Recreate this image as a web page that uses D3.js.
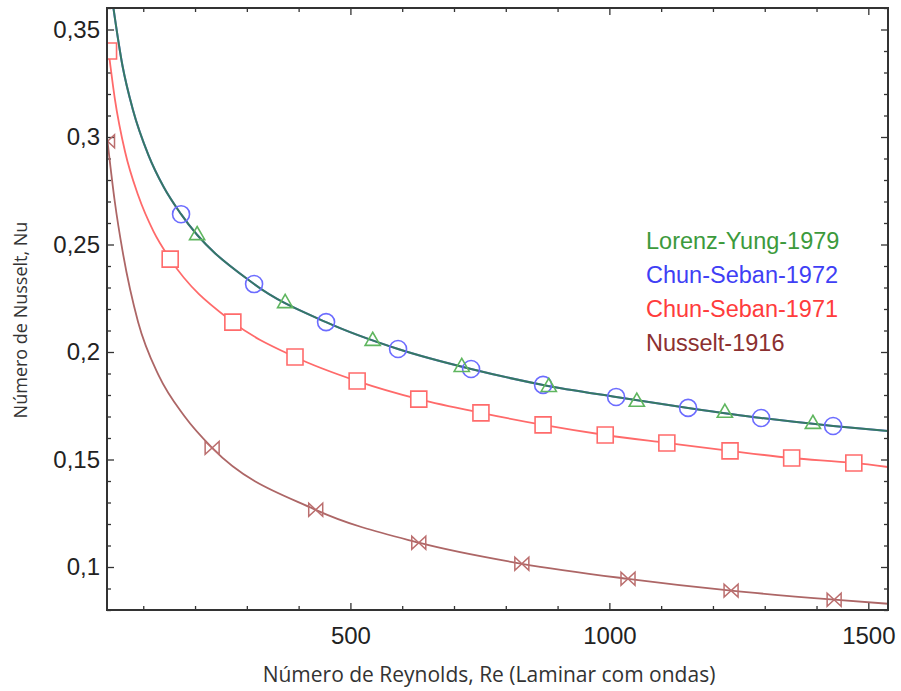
<!DOCTYPE html>
<html>
<head>
<meta charset="utf-8">
<script src="https://cdn.jsdelivr.net/npm/d3@7"></script>
<style>
    body { margin: 0; background: #fff; }
    svg { display: block; }
</style>
</head>
<body>
<svg class="nusselt-chart" width="901" height="691"></svg>
<script>

//////////// DATA ////////////

var seriesNames = ["Lorenz-Yung-1979", "Chun-Seban-1972", "Chun-Seban-1971", "Nusselt-1916"];

// Lorenz-Yung-1979 markers (triangles)
var lorenzRe = [204, 374, 543, 715, 883, 1053, 1223, 1393];
var lorenzNu = [0.2543, 0.2227, 0.2051, 0.1930, 0.1837, 0.1768, 0.1717, 0.1665];

// Chun-Seban-1972 markers (circles)
var chun72Re = [173, 314, 453, 592, 733, 872, 1013, 1152, 1293, 1432];
var chun72Nu = [0.2641, 0.2316, 0.2139, 0.2014, 0.1921, 0.1847, 0.1791, 0.1740, 0.1693, 0.1656];

// Chun-Seban-1971 markers (squares)
var chun71Re = [33, 152, 273, 393, 513, 632, 752, 872, 992, 1111, 1233, 1352, 1472];
var chun71Nu = [0.340, 0.2432, 0.2139, 0.1977, 0.1865, 0.1781, 0.1717, 0.1661, 0.1614, 0.1577, 0.1540, 0.1507, 0.1484];

// Nusselt-1916 markers (bowties)
var nusseltRe = [31, 233, 433, 632, 831, 1036, 1235, 1434];
var nusseltNu = [0.298, 0.1554, 0.1266, 0.1113, 0.1015, 0.0945, 0.0890, 0.0848];

// extra points (the two upper series share one curve)
var upperCurveRe = [40, 60, 80, 110, 140, 173, 314, 453, 592, 733, 872, 1013, 1152, 1293, 1432, 1538];
var upperCurveNu = [0.364, 0.333, 0.3127, 0.2916, 0.2765, 0.2641, 0.2316, 0.2139, 0.2014, 0.1921, 0.1847, 0.1791, 0.1740, 0.1693, 0.1656, 0.1632];
var chun71CurveRe = [33, 45, 65, 90, 120, 152, 273, 393, 513, 632, 752, 872, 992, 1111, 1233, 1352, 1472, 1538];
var chun71CurveNu = [0.340, 0.318, 0.293, 0.273, 0.256, 0.2432, 0.2139, 0.1977, 0.1865, 0.1781, 0.1717, 0.1661, 0.1614, 0.1577, 0.1540, 0.1507, 0.1484, 0.1465];
var nusseltCurveRe = [31, 45, 60, 90, 130, 180, 233, 433, 632, 831, 1036, 1235, 1434, 1538];
var nusseltCurveNu = [0.298, 0.270, 0.247, 0.214, 0.189, 0.170, 0.1554, 0.1266, 0.1113, 0.1015, 0.0945, 0.0890, 0.0848, 0.0829];

// ticks
var xMajorTicks = [500, 1000, 1500];
var xTickLabels = ["500", "1000", "1500"];
var yMajorTicks = [0.1, 0.15, 0.2, 0.25, 0.3, 0.35];
var yTickLabels = ["0,1", "0,15", "0,2", "0,25", "0,3", "0,35"];

var colours = {
    lorenzLine: '#2e8b2e',
    lorenzMark: '#5fb65f',
    lorenzText: '#3c9a3c',
    chun72Line: '#4a4af0',
    chun72Mark: '#6c6cff',
    chun72Text: '#3f3ff5',
    chun71Line: '#ff6a6a',
    chun71Mark: '#ff6b6b',
    chun71Text: '#ff3c3c',
    nusseltLine: '#ad6666',
    nusseltMark: '#bb6e6e',
    nusseltText: '#8c3030'
};


//////////// SCALES ////////////

var svg = d3.select("svg.nusselt-chart");
var margin = { left: 107, right: 888, top: 8, bottom: 610 };

var x = d3.scaleLinear().domain([30, 1538]).range([margin.left, margin.right]);
var y = d3.scaleLinear().domain([0.08, 0.36]).range([margin.bottom, margin.top]);

var xMinorTicks = d3.range(1, 16).map((d) => d * 100).filter((d) => xMajorTicks.indexOf(d) == -1);
var yMinorTicks = d3.range(8, 37).map((d) => d / 100).filter((d) => yMajorTicks.every((m) => Math.abs(m - d) > 1e-9));

function zip(a, b) {
    return a.map((d, i) => [d, b[i]]);
}

svg.append("clipPath").attr("id", "plot-clip")
    .append("rect")
    .attr("x", margin.left).attr("y", margin.top)
    .attr("width", margin.right - margin.left)
    .attr("height", margin.bottom - margin.top);


//////////// AXES ////////////

function styleAxis(g) {
    g.select(".domain").remove();
    g.selectAll(".tick line").attr("stroke", "#333").attr("stroke-width", 1.3);
    g.selectAll(".tick text")
        .attr("fill", "#222")
        .style("font-family", "'Liberation Sans', Arial, sans-serif")
        .style("font-size", "24px");
}

// left / bottom with labels
svg.append("g")
    .attr("transform", `translate(${margin.left},0)`)
    .call(d3.axisLeft(y).tickValues(yMajorTicks).tickSizeInner(-7).tickSizeOuter(0).tickPadding(7)
        .tickFormat((d, i) => yTickLabels[i]))
    .call(styleAxis);
svg.append("g")
    .attr("transform", `translate(${margin.left},0)`)
    .call(d3.axisLeft(y).tickValues(yMinorTicks).tickSizeInner(-4).tickSizeOuter(0).tickFormat(""))
    .call(styleAxis);

svg.append("g")
    .attr("transform", `translate(0,${margin.bottom})`)
    .call(d3.axisBottom(x).tickValues(xMajorTicks).tickSizeInner(-7).tickSizeOuter(0).tickPadding(17)
        .tickFormat((d, i) => xTickLabels[i]))
    .call(styleAxis);
svg.append("g")
    .attr("transform", `translate(0,${margin.bottom})`)
    .call(d3.axisBottom(x).tickValues(xMinorTicks).tickSizeInner(-4).tickSizeOuter(0).tickFormat(""))
    .call(styleAxis);

// right / top, ticks only
svg.append("g")
    .attr("transform", `translate(${margin.right},0)`)
    .call(d3.axisRight(y).tickValues(yMajorTicks).tickSizeInner(-7).tickSizeOuter(0).tickFormat(""))
    .call(styleAxis);
svg.append("g")
    .attr("transform", `translate(${margin.right},0)`)
    .call(d3.axisRight(y).tickValues(yMinorTicks).tickSizeInner(-4).tickSizeOuter(0).tickFormat(""))
    .call(styleAxis);
svg.append("g")
    .attr("transform", `translate(0,${margin.top})`)
    .call(d3.axisTop(x).tickValues(xMajorTicks).tickSizeInner(-7).tickSizeOuter(0).tickFormat(""))
    .call(styleAxis);
svg.append("g")
    .attr("transform", `translate(0,${margin.top})`)
    .call(d3.axisTop(x).tickValues(xMinorTicks).tickSizeInner(-4).tickSizeOuter(0).tickFormat(""))
    .call(styleAxis);


//////////// CURVES ////////////

var line = d3.line()
    .x((d) => x(d[0]))
    .y((d) => y(d[1]))
    .curve(d3.curveMonotoneX);

var curves = svg.append("g").attr("class", "curves").attr("clip-path", "url(#plot-clip)");

curves.append("path")
    .datum(zip(nusseltCurveRe, nusseltCurveNu))
    .attr("d", line).attr("fill", "none")
    .attr("stroke", colours.nusseltLine).attr("stroke-width", 1.8);

curves.append("path")
    .datum(zip(chun71CurveRe, chun71CurveNu))
    .attr("d", line).attr("fill", "none")
    .attr("stroke", colours.chun71Line).attr("stroke-width", 1.8);

// blue and green lie on top of each other
curves.append("path")
    .datum(zip(upperCurveRe, upperCurveNu))
    .attr("d", line).attr("fill", "none")
    .attr("stroke", colours.chun72Line).attr("stroke-width", 2);
curves.append("path")
    .datum(zip(upperCurveRe, upperCurveNu))
    .attr("d", line).attr("fill", "none")
    .attr("stroke", colours.lorenzLine).attr("stroke-width", 2)
    .attr("stroke-opacity", 0.72);


//////////// MARKERS ////////////

var bowtie = "M-7,-6.5L-7,6.5L7,-6.5L7,6.5Z";
var markers = svg.append("g").attr("class", "markers").attr("clip-path", "url(#plot-clip)");

markers.selectAll("path.nusselt")
    .data(zip(nusseltRe, nusseltNu))
    .enter().append("path")
    .attr("class", "nusselt")
    .attr("transform", (d) => `translate(${x(d[0])},${y(d[1])})`)
    .attr("d", bowtie)
    .attr("fill", "none").attr("stroke", colours.nusseltMark).attr("stroke-width", 1.5);

markers.selectAll("path.chun71")
    .data(zip(chun71Re, chun71Nu))
    .enter().append("path")
    .attr("class", "chun71")
    .attr("transform", (d) => `translate(${x(d[0])},${y(d[1])})`)
    .attr("d", d3.symbol(d3.symbolSquare, 256))
    .attr("fill", "#fff").attr("stroke", colours.chun71Mark).attr("stroke-width", 1.6);

markers.selectAll("path.chun72")
    .data(zip(chun72Re, chun72Nu))
    .enter().append("path")
    .attr("class", "chun72")
    .attr("transform", (d) => `translate(${x(d[0])},${y(d[1])})`)
    .attr("d", d3.symbol(d3.symbolCircle, 227))
    .attr("fill", "none").attr("stroke", colours.chun72Mark).attr("stroke-width", 1.6);

markers.selectAll("path.lorenz")
    .data(zip(lorenzRe, lorenzNu))
    .enter().append("path")
    .attr("class", "lorenz")
    .attr("transform", (d) => `translate(${x(d[0])},${y(d[1])})`)
    .attr("d", d3.symbol(d3.symbolTriangle, 100))
    .attr("fill", "none").attr("stroke", colours.lorenzMark).attr("stroke-width", 1.6);


//////////// FRAME, LEGEND, TITLES ////////////

svg.append("rect")
    .attr("x", margin.left).attr("y", margin.top)
    .attr("width", margin.right - margin.left)
    .attr("height", margin.bottom - margin.top)
    .attr("fill", "none").attr("stroke", "#333").attr("stroke-width", 2);

var legendColours = [colours.lorenzText, colours.chun72Text, colours.chun71Text, colours.nusseltText];
svg.append("g")
    .attr("class", "legend")
    .selectAll("text")
    .data(seriesNames)
    .enter().append("text")
    .attr("x", 646)
    .attr("y", (d, i) => 249 + i * 34)
    .attr("fill", (d, i) => legendColours[i])
    .style("font-family", "'Liberation Sans', Arial, sans-serif")
    .style("font-size", "23.5px")
    .text((d) => d);

svg.append("text")
    .attr("x", 489).attr("y", 682)
    .attr("text-anchor", "middle")
    .attr("fill", "#333")
    .style("font-family", "'Open Sans', sans-serif")
    .style("font-size", "21px")
    .text("Número de Reynolds, Re (Laminar com ondas)");

svg.append("text")
    .attr("transform", "translate(27,320) rotate(-90)")
    .attr("text-anchor", "middle")
    .attr("fill", "#333")
    .style("font-family", "'Open Sans', sans-serif")
    .style("font-size", "18px")
    .text("Número de Nusselt, Nu");

</script>
</body>
</html>
